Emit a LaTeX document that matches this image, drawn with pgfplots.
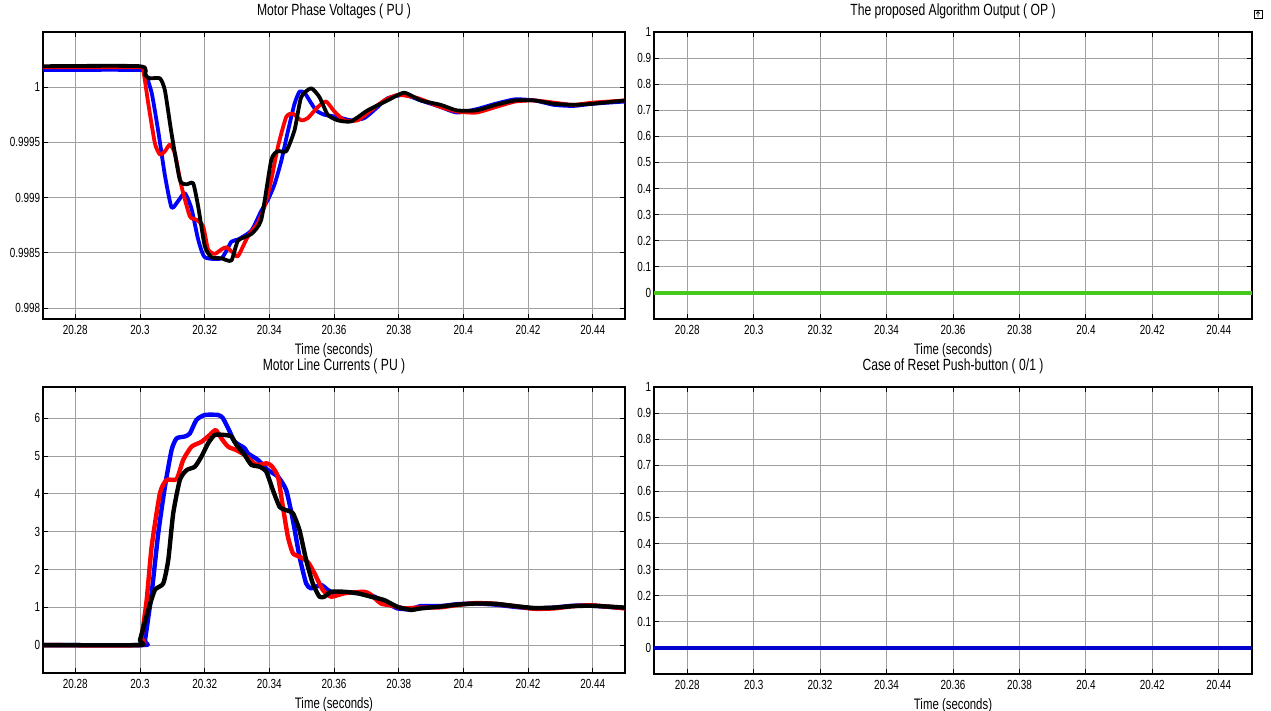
\documentclass[border=0pt]{standalone}
\usepackage{pgfplots}
\pgfplotsset{compat=1.18}
\usepackage{fontspec}
\setmainfont{Liberation Sans}[FakeStretch=0.75]
\definecolor{mlgrid}{RGB}{160,160,160}
\definecolor{mlgreen}{RGB}{70,200,30}
\definecolor{mldblue}{RGB}{0,0,205}
\pgfplotsset{
  ml/.style={
    scale only axis, anchor=north west,
    xmin=20.27, xmax=20.45,
    xtick={20.28,20.30,20.32,20.34,20.36,20.38,20.40,20.42,20.44},
    xticklabels={20.28,20.3,20.32,20.34,20.36,20.38,20.4,20.42,20.44},
    grid=major, major grid style={draw=mlgrid, line width=0.45pt},
    tick align=inside, major tick length=2.5pt,
    axis line style={black, line width=0.55pt},
    tick style={black, line width=0.45pt},
    ticklabel style={font=\fontsize{6.6}{7}\selectfont, inner sep=0pt},
    xticklabel style={yshift=-3pt},
    yticklabel style={xshift=-1.2pt},
    xlabel={Time (seconds)},
    xlabel style={at={(axis description cs:0.5,0)}, anchor=north, inner sep=0pt,
                  yshift=-12pt, font=\fontsize{7.6}{8}\selectfont},
    title style={at={(axis description cs:0.5,1)}, anchor=base, inner sep=0pt,
                 yshift=2.4pt, font=\fontsize{8.1}{9}\selectfont},
  },
  bin/.style={ymin=-0.1, ymax=1,
    ytick={0,0.1,0.2,0.3,0.4,0.5,0.6,0.7,0.8,0.9,1},
    yticklabels={0,0.1,0.2,0.3,0.4,0.5,0.6,0.7,0.8,0.9,1}},
  vl/.style={line width=1.9pt, line join=round, smooth, tension=0.35},
}
\begin{document}
\begin{tikzpicture}
\useasboundingbox (0,0) rectangle (635.5pt,-355.5pt);

% ---- phase voltages
\begin{axis}[ml, at={(21.5pt,-16pt)}, width=291pt, height=143.5pt,
  ymin=0.9979, ymax=1.0005,
  ytick={0.998,0.9985,0.999,0.9995,1},
  yticklabels={0.998,0.9985,0.999,0.9995,1},
  title={Motor Phase Voltages ( PU )}]
\addplot[vl, blue] coordinates {
(20.27,1.000156) (20.30,1.000156) (20.30154,1.00013) (20.30360,0.99995)
(20.30565,0.99960) (20.30771,0.99920) (20.30976,0.99891) (20.31182,0.99897)
(20.31387,0.99904) (20.31593,0.99890) (20.31799,0.99862) (20.32004,0.99846)
(20.32518,0.99845) (20.32826,0.99860) (20.33032,0.99862) (20.33443,0.99870)
(20.33751,0.99888) (20.33957,0.99898) (20.34162,0.99912) (20.34368,0.99933)
(20.34574,0.99960) (20.34779,0.99985) (20.34933,0.99996) (20.35087,0.99995)
(20.35242,0.99988) (20.35447,0.99979) (20.35704,0.99975) (20.36115,0.99973)
(20.36526,0.99970) (20.36937,0.99972) (20.37348,0.99982) (20.37657,0.99990)
(20.38171,0.99993) (20.38684,0.99988) (20.393,0.99982) (20.398,0.99977)
(20.404,0.99980) (20.41,0.99985) (20.416,0.99989) (20.422,0.99988)
(20.428,0.99984) (20.434,0.99983) (20.44,0.99985) (20.45,0.99987)};
\addplot[vl, red] coordinates {
(20.27,1.00018) (20.30,1.00018) (20.30103,1.00015) (20.30257,0.99985)
(20.30462,0.99949) (20.30617,0.99939) (20.30771,0.99942) (20.30925,0.99948)
(20.31079,0.99940) (20.31285,0.99910) (20.31542,0.99883) (20.31747,0.99880)
(20.31953,0.99874) (20.32107,0.99853) (20.32312,0.99849) (20.32518,0.99853)
(20.32672,0.99855) (20.32878,0.99850) (20.33032,0.99847) (20.33340,0.99865)
(20.33649,0.99877) (20.33854,0.99892) (20.34060,0.99916) (20.34265,0.99946)
(20.34522,0.99973) (20.34728,0.99976) (20.34985,0.99970) (20.35190,0.99972)
(20.35498,0.99982) (20.35755,0.99987) (20.36012,0.99978) (20.36321,0.99970)
(20.36732,0.99970) (20.37143,0.99979) (20.37554,0.99988) (20.37965,0.99993)
(20.38479,0.99991) (20.38787,0.99988) (20.393,0.99982) (20.398,0.99978)
(20.404,0.99977) (20.41,0.99982) (20.416,0.99987) (20.422,0.99988)
(20.428,0.99986) (20.434,0.99984) (20.44,0.99986) (20.45,0.99988)};
\addplot[vl, black] coordinates {
(20.27,1.00019) (20.30,1.00019) (20.30154,1.00011) (20.30308,1.00008)
(20.30617,1.00008) (20.30771,0.99997) (20.30976,0.99958) (20.31233,0.99916)
(20.31439,0.99912) (20.31644,0.99913) (20.31799,0.99892) (20.32004,0.99856)
(20.32210,0.99846) (20.32518,0.99845) (20.32826,0.99843) (20.33032,0.99861)
(20.33443,0.99867) (20.33751,0.99880) (20.34060,0.99934) (20.34265,0.99942)
(20.34522,0.99942) (20.34779,0.99961) (20.34985,0.99991) (20.35293,0.99999)
(20.35550,0.99991) (20.35807,0.99975) (20.36115,0.99970) (20.36526,0.99969)
(20.37040,0.99979) (20.37657,0.99988) (20.38171,0.99995) (20.38684,0.99988)
(20.393,0.99984) (20.398,0.99979) (20.404,0.99979) (20.41,0.99984)
(20.416,0.99988) (20.422,0.99988) (20.428,0.99985) (20.434,0.99984)
(20.44,0.99985) (20.45,0.99988)};
\end{axis}

% ---- algorithm output
\begin{axis}[ml, bin, at={(327pt,-16pt)}, width=299pt, height=143.5pt,
  title={The proposed Algorithm Output ( OP )}]
\addplot[mlgreen, line width=2.3pt] coordinates {(20.27,0) (20.45,0)};
\end{axis}

% ---- line currents
\begin{axis}[ml, at={(21.5pt,-193.5pt)}, width=291pt, height=143pt,
  ymin=-0.74, ymax=6.83, ytick={0,1,2,3,4,5,6},
  yticklabels={0,1,2,3,4,5,6},
  title={Motor Line Currents ( PU )}]
\addplot[vl, blue, line width=2.2pt] coordinates {
(20.27,0) (20.30103,0) (20.30154,0.13) (20.30360,1.37) (20.30565,2.96)
(20.30771,4.19) (20.30976,5.16) (20.31131,5.47) (20.31387,5.52) (20.31542,5.60)
(20.31747,5.96) (20.32004,6.09) (20.32415,6.09) (20.32569,6.00) (20.32775,5.65)
(20.32929,5.38) (20.33237,5.21) (20.33340,5.07) (20.33649,4.90) (20.33957,4.63)
(20.34265,4.46) (20.34522,4.10) (20.34728,3.31) (20.34933,2.34) (20.35139,1.63)
(20.35293,1.50) (20.35601,1.59) (20.35807,1.46) (20.36012,1.37) (20.36423,1.39)
(20.36937,1.36) (20.37246,1.28) (20.37657,1.10) (20.37965,0.97) (20.38376,0.95)
(20.38684,1.03) (20.393,1.03) (20.398,1.08) (20.404,1.10) (20.41,1.07)
(20.416,1.01) (20.422,0.97) (20.428,0.99) (20.434,1.04) (20.44,1.04) (20.45,0.98)};
\addplot[vl, red, line width=2.2pt] coordinates {
(20.27,0) (20.30,0) (20.30051,0.22) (20.30206,1.19) (20.30360,2.60)
(20.30617,4.02) (20.30822,4.37) (20.31131,4.39) (20.31336,4.90) (20.31593,5.25)
(20.31901,5.38) (20.32158,5.56) (20.32343,5.69) (20.32518,5.47) (20.32724,5.25)
(20.32980,5.16) (20.33237,5.03) (20.33597,4.77) (20.33905,4.81) (20.34060,4.75)
(20.34265,4.46) (20.34419,3.66) (20.34574,2.87) (20.34728,2.43) (20.34933,2.34)
(20.35190,2.20) (20.35396,1.90) (20.35653,1.46) (20.35910,1.28) (20.36321,1.37)
(20.36937,1.41) (20.37143,1.33) (20.37451,1.10) (20.37760,1.05) (20.38171,0.97)
(20.38582,0.99) (20.393,1.00) (20.398,1.06) (20.404,1.11) (20.41,1.09)
(20.416,1.03) (20.422,0.96) (20.428,0.97) (20.434,1.03) (20.44,1.05) (20.45,0.97)};
\addplot[vl, black, line width=2.2pt] coordinates {
(20.27,0) (20.2999,0) (20.30,0.13) (20.30257,0.93) (20.30462,1.46)
(20.30719,1.63) (20.30874,2.25) (20.31028,3.49) (20.31233,4.37) (20.31439,4.63)
(20.31696,4.72) (20.31901,4.99) (20.32107,5.34) (20.32312,5.56) (20.32621,5.56)
(20.32826,5.52) (20.32980,5.30) (20.33237,5.03) (20.33443,4.77) (20.33700,4.72)
(20.33905,4.59) (20.34111,4.10) (20.34317,3.66) (20.34522,3.57) (20.34728,3.49)
(20.34933,3.04) (20.35139,2.25) (20.35344,1.63) (20.35550,1.28) (20.35704,1.28)
(20.35910,1.41) (20.36321,1.41) (20.36732,1.37) (20.37143,1.28) (20.37554,1.19)
(20.37965,1.01) (20.38376,0.93) (20.38684,0.97) (20.393,1.02) (20.398,1.07)
(20.404,1.10) (20.41,1.09) (20.416,1.03) (20.422,0.98) (20.428,0.99)
(20.434,1.03) (20.44,1.04) (20.45,0.99)};
\end{axis}

% ---- reset push-button
\begin{axis}[ml, bin, at={(327pt,-193.5pt)}, width=299pt, height=143.5pt,
  title={Case of Reset Push-button ( 0/1 )}]
\addplot[mldblue, line width=2pt] coordinates {(20.27,0) (20.45,0)};
\end{axis}

% small window icon, top right
\draw[black, line width=0.4pt] (627pt,-5pt) rectangle (631pt,-9pt);
\draw[black, line width=0.35pt] (629pt,-8.3pt) -- (629pt,-5.8pt)
  (628.1pt,-6.8pt) -- (629pt,-5.8pt) -- (629.9pt,-6.8pt);
\end{tikzpicture}
\end{document}
